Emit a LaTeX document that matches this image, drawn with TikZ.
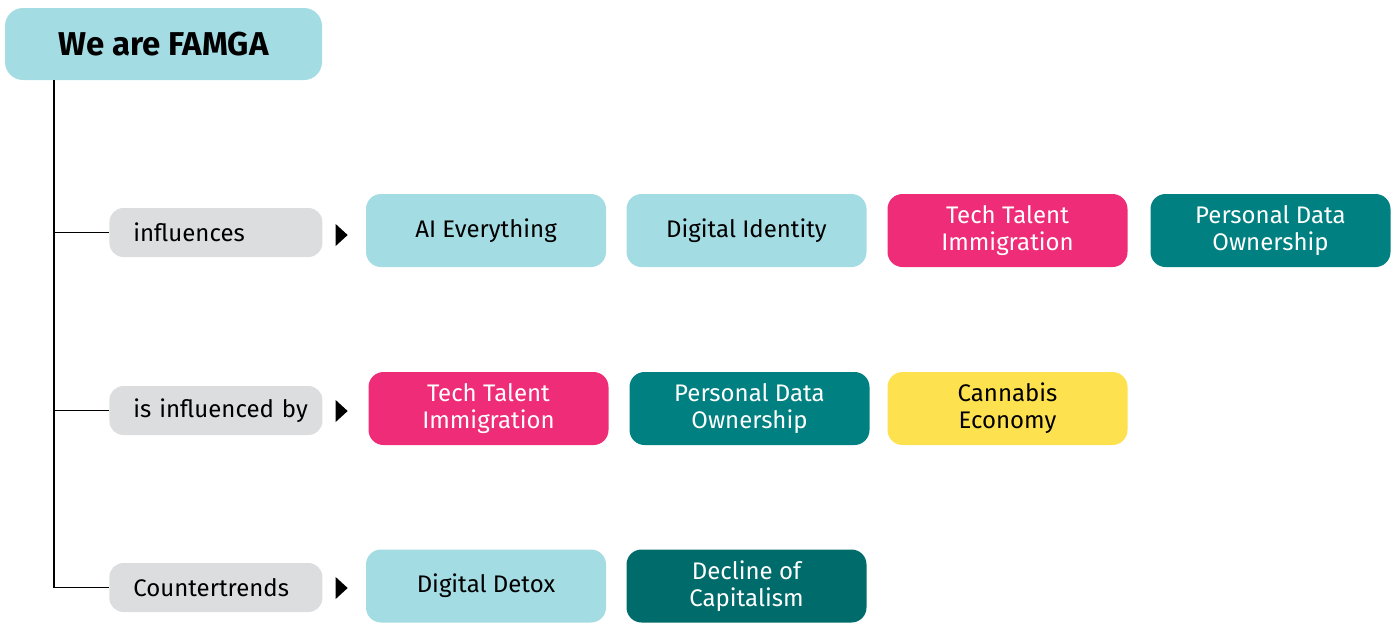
\documentclass[tikz,border=0pt]{standalone}
\usepackage{fontspec}
\setmainfont{Fira Sans}
\usetikzlibrary{shapes.geometric}

\definecolor{skyblue}{HTML}{A4DCE4}
\definecolor{labelgray}{HTML}{DCDDDF}
\definecolor{hotpink}{HTML}{EE2C77}
\definecolor{tealgreen}{HTML}{008080}
\definecolor{darkteal}{HTML}{006B6B}
\definecolor{sunyellow}{HTML}{FEE14F}

\begin{document}
\begin{tikzpicture}[x=0.5pt,y=-0.5pt,
    trend/.style = {rounded corners=7.5pt, minimum width=120pt, minimum height=36.5pt, align=center, font=\fontsize{12}{13.5}\selectfont},
    relation/.style = {fill=labelgray, rounded corners=7pt, minimum width=106.5pt, minimum height=24.5pt, text width=106.5pt, inner xsep=0pt, align=left, anchor=west, font=\fontsize{12}{13}\selectfont, execute at begin node=\hspace*{12pt}},
    pointer/.style = {isosceles triangle, isosceles triangle stretches, fill=black, inner sep=0pt, minimum height=6pt, minimum width=11pt}]
        \useasboundingbox (0,0) rectangle (1398,622);

        \node[fill=skyblue, rounded corners=9pt, minimum width=158.5pt, minimum height=36pt, font=\fontsize{16.5}{19}\selectfont\bfseries](famga) at (163.5,44) {We are FAMGA};

        % relation labels
        \node[relation](infl) at (109,232.5) {influences};
        \node[relation](inflby) at (109,410.5) {is influenced by};
        \node[relation](counter) at (109,587.5) {Countertrends};

        \node[pointer](p1) at (340.5,235) {};
        \node[pointer](p2) at (340.5,411) {};
        \node[pointer](p3) at (340.5,588) {};

        % influences
        \node[trend, fill=skyblue](ai) at (486,230.5) {AI Everything};
        \node[trend, fill=skyblue](digid) at (746.5,230.5) {Digital Identity};
        \node[trend, fill=hotpink, text=white](talent1) at (1007.5,230.5) {Tech Talent\\Immigration};
        \node[trend, fill=tealgreen, text=white](data1) at (1270.5,230.5) {Personal Data\\Ownership};

        % is influenced by
        \node[trend, fill=hotpink, text=white](talent2) at (488.5,408.5) {Tech Talent\\Immigration};
        \node[trend, fill=tealgreen, text=white](data2) at (749.5,408.5) {Personal Data\\Ownership};
        \node[trend, fill=sunyellow](cannabis) at (1007.5,408.5) {Cannabis\\Economy};

        % countertrends
        \node[trend, fill=skyblue](detox) at (486,586) {Digital Detox};
        \node[trend, fill=darkteal, text=white](decline) at (746.5,586) {Decline of\\Capitalism};

        \coordinate (root) at (54,80);
        \draw[line width=0.6pt] (root) |- (infl.west);
        \draw[line width=0.6pt] (root) |- (inflby.west);
        \draw[line width=0.6pt] (root) |- (counter.west);
      \end{tikzpicture}
\end{document}
